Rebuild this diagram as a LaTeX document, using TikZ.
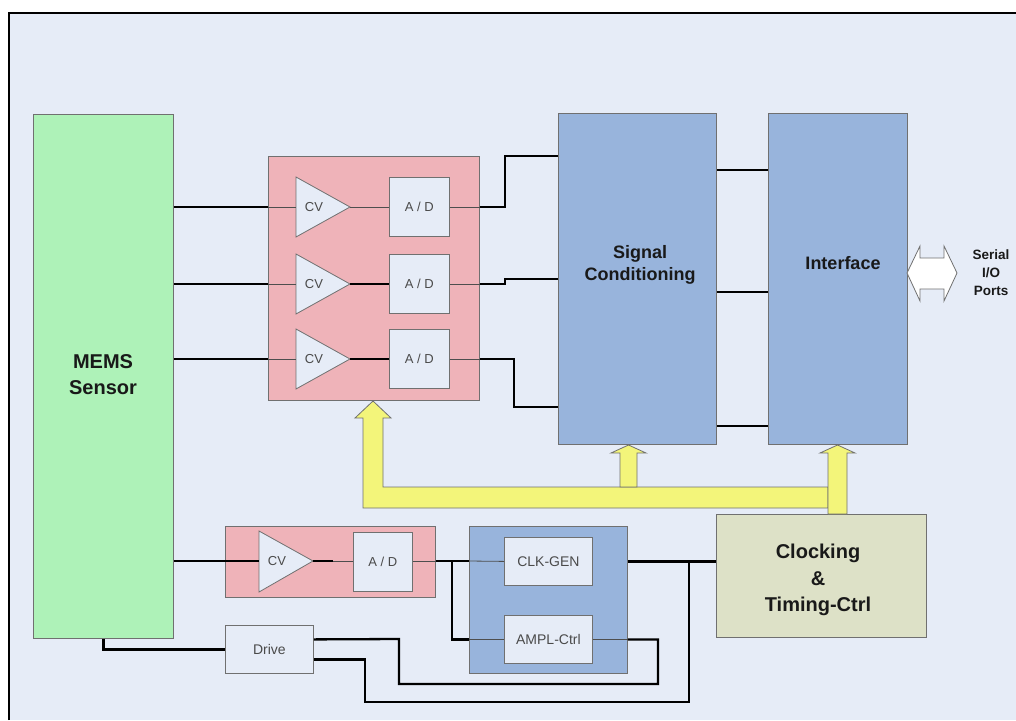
\documentclass[tikz,border=0pt]{standalone}
\usepackage{fontspec}
\setmainfont{Liberation Sans}
\definecolor{bg}{HTML}{E6ECF7}
\definecolor{memsg}{HTML}{AEF2B8}
\definecolor{pinkb}{HTML}{EFB3B9}
\definecolor{blueb}{HTML}{98B4DC}
\definecolor{clkb}{HTML}{DDE1C7}
\definecolor{yel}{HTML}{F3F57A}
\definecolor{edge}{HTML}{707070}
\definecolor{lbl}{HTML}{4A4A4A}
\begin{document}
\begin{tikzpicture}[x=1pt,y=-1pt,
  blk/.style={draw=edge, line width=0.8pt, inner sep=0pt, anchor=north west},
  tri/.style={draw=edge, line width=0.8pt, fill=bg},
  wire/.style={line width=2.3pt, black},
  thinw/.style={line width=0.8pt, draw=edge!70!black},
  inlbl/.style={font=\fontsize{13}{15}\selectfont, text=lbl, inner sep=0pt},
  biglbl/.style={font=\bfseries\fontsize{20}{26}\selectfont, align=center, text=black!90},
  midlbl/.style={font=\bfseries\fontsize{18}{22}\selectfont, align=center, text=black!90},
  yarrow/.style={draw=edge, line width=0.8pt, fill=yel, line join=miter}]
\useasboundingbox (0,0) rectangle (1016,720);
\fill[white] (0,0) rectangle (1016,720);
\fill[bg] (8,12) rectangle (1016,720);
\draw[line width=2pt] (8.5,720) -- (8.5,12.5) -- (1016,12.5);

% main blocks
\node[blk, fill=memsg, minimum width=140pt, minimum height=524pt] (mems) at (33,114) {};
\node[biglbl] (memst) at (103,375) {MEMS\\Sensor};
\node[blk, fill=pinkb, minimum width=211pt, minimum height=244pt] (pink) at (268,156) {};
\node[blk, fill=blueb, minimum width=158pt, minimum height=331pt] (sc) at (558,113) {};
\node[midlbl] (sct) at (640,265) {Signal\\Conditioning};
\node[blk, fill=blueb, minimum width=139pt, minimum height=331pt] (intf) at (768,113) {};
\node[midlbl] (intft) at (843,263) {Interface};
\node[blk, fill=clkb, minimum width=210pt, minimum height=123pt] (clock) at (716,514) {};
\node[font=\bfseries\fontsize{20}{26.5}\selectfont, align=center, text=black!90] (clockt) at (818,580) {Clocking\\\&\\Timing-Ctrl};

% A/D boxes
\node[blk, fill=bg, minimum width=60pt, minimum height=59pt, font=\fontsize{13}{15}\selectfont, text=lbl] (ad1) at (389,177) {A / D};
\node[blk, fill=bg, minimum width=60pt, minimum height=59pt, font=\fontsize{13}{15}\selectfont, text=lbl] (ad2) at (389,254) {A / D};
\node[blk, fill=bg, minimum width=60pt, minimum height=59pt, font=\fontsize{13}{15}\selectfont, text=lbl] (ad3) at (389,329) {A / D};

% CV triangles
\foreach \n/\y in {1/207,2/284,3/359}{
  \draw[tri] (296,\y-30) -- (350,\y) -- (296,\y+30) -- cycle;
  \coordinate (cv\n w) at (296,\y);
  \coordinate (cv\n e) at (350,\y);
  \node[inlbl] (cv\n) at (314,\y) {CV};
}

% bottom blocks
\node[blk, fill=pinkb, minimum width=210pt, minimum height=71pt] (pink2) at (225,526) {};
\draw[tri] (259,531) -- (313,561) -- (259,592) -- cycle;
\coordinate (cv4w) at (259,561);
\coordinate (cv4e) at (313,561);
\node[inlbl] (cv4) at (277,561) {CV};
\node[blk, fill=bg, minimum width=59pt, minimum height=59pt, font=\fontsize{13}{15}\selectfont, text=lbl] (ad4) at (353,532) {A / D};
\node[blk, fill=blueb, minimum width=158pt, minimum height=147pt] (blue) at (469,526) {};
\node[blk, fill=bg, minimum width=88pt, minimum height=48pt, font=\fontsize{14}{16}\selectfont, text=lbl] (clk) at (504,537) {CLK-GEN};
\node[blk, fill=bg, minimum width=88pt, minimum height=48pt, font=\fontsize{14}{16}\selectfont, text=lbl] (ampl) at (504,615) {AMPL-Ctrl};
\node[blk, fill=bg, minimum width=88pt, minimum height=48pt, font=\fontsize{14}{16}\selectfont, text=lbl] (drive) at (225,625) {Drive};

% upper wires
\foreach \n in {1,2,3}{
  \draw[wire] (mems.east |- cv\n w) -- (pink.west |- cv\n w);
  \draw[thinw] (pink.west |- cv\n w) -- (cv\n w);
  \draw[thinw] (ad\n.east |- cv\n e) -- (pink.east |- cv\n e);
}
\draw[thinw] (cv1e) -- (ad1.west |- cv1e);
\draw[wire] (cv2e) -- (ad2.west |- cv2e);
\draw[wire] (cv3e) -- (ad3.west |- cv3e);
\draw[wire] (pink.east |- cv1e) -- ++(25,0) |- (sc.west |- 0,156);
\draw[wire] (pink.east |- cv2e) -- ++(25,0) |- (sc.west |- 0,279);
\draw[wire] (pink.east |- cv3e) -- ++(34,0) |- (sc.west |- 0,407);
\foreach \y in {170,292,426}{
  \draw[wire] (sc.east |- 0,\y) -- (intf.west |- 0,\y);
}

% serial I/O
\draw[draw=edge, line width=0.8pt, fill=white] (907,273) -- (920,246) -- (920,258) -- (944,258) -- (944,246) -- (957,273) -- (944,301) -- (944,289) -- (920,289) -- (920,301) -- cycle;
\node[font=\bfseries\fontsize{13.5}{18}\selectfont, align=center, text=black!90] (io) at (991,273) {Serial\\I/O\\Ports};

% yellow arrows
\draw[yarrow] (828,487) -- (383,487) -- (383,418) -- (391,418) -- (373,401) -- (355,418) -- (363,418) -- (363,508) -- (828,508) -- cycle;
\draw[yarrow] (620,487) -- (620,453) -- (611,453) -- (628.5,445) -- (646,453) -- (637,453) -- (637,487) -- cycle;
\draw[yarrow] (828,514) -- (828,453) -- (820,453) -- (837.5,445) -- (855,453) -- (847,453) -- (847,514) -- cycle;

% bottom wires
\draw[wire] (mems.east |- cv4w) -- (cv4w);
\draw[thinw] (cv4e) -- (ad4.west |- cv4e);
\draw[wire] (cv4e) -- ++(20,0);
\draw[thinw] (ad4.east |- cv4e) -- (pink2.east |- cv4e);
\draw[wire] (pink2.east |- cv4e) -- (blue.west |- cv4e);
\draw[thinw] (blue.west |- cv4e) -- (clk.west);
\coordinate (j1) at (452,561);
\draw[wire] (j1) |- (blue.west |- ampl.west);
\draw[thinw] (blue.west |- ampl.west) -- (ampl.west);
\draw[wire] (blue.east |- clk.east) -- (clock.west |- clk.east);
\coordinate (j2) at (689,561);
\draw[wire] (j2) |- (365,702) |- ([yshift=-10pt]drive.east);
\draw[thinw] (ampl.east) -- (blue.east |- ampl.east);
\draw[wire] (blue.east |- ampl.east) -| (658,684) -| (399,639) -- (drive.east |- ampl.east);
\draw[wire] (mems.south) |- (drive.west);
\end{tikzpicture}
\end{document}
